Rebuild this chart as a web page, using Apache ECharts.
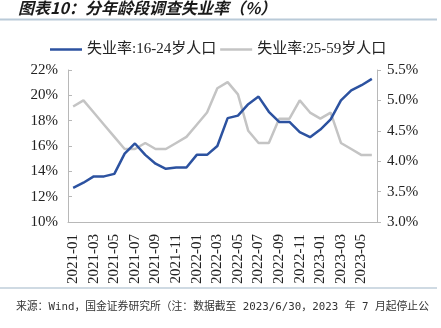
<!DOCTYPE html>
<html>
<head>
<meta charset="utf-8">
<style>
  html, body { margin: 0; padding: 0; background: #fff; }
  #chart { width: 441px; height: 328px; }
</style>
<script src="https://cdn.jsdelivr.net/npm/echarts@6/dist/echarts.min.js"></script>
</head>
<body>
<div id="chart"></div>
<script>
// Monthly survey unemployment rate by age group, 2021-01 .. 2023-06
const months = [
  '2021-01','2021-02','2021-03','2021-04','2021-05','2021-06',
  '2021-07','2021-08','2021-09','2021-10','2021-11','2021-12',
  '2022-01','2022-02','2022-03','2022-04','2022-05','2022-06',
  '2022-07','2022-08','2022-09','2022-10','2022-11','2022-12',
  '2023-01','2023-02','2023-03','2023-04','2023-05','2023-06'
];
// 16-24 age group (left axis, %)
const youthRate = [
  12.7, 13.1, 13.6, 13.6, 13.8, 15.4,
  16.2, 15.3, 14.6, 14.2, 14.3, 14.3,
  15.3, 15.3, 16.0, 18.2, 18.4, 19.3,
  19.9, 18.7, 17.9, 17.9, 17.1, 16.7,
  17.3, 18.1, 19.6, 20.4, 20.8, 21.3
];
// 25-59 age group (right axis, %)
const primeRate = [
  4.9, 5.0, 4.8, 4.6, 4.4, 4.2,
  4.2, 4.3, 4.2, 4.2, 4.3, 4.4,
  4.6, 4.8, 5.2, 5.3, 5.1, 4.5,
  4.3, 4.3, 4.7, 4.7, 5.0, 4.8,
  4.7, 4.8, 4.3, 4.2, 4.1, 4.1
];
const seriesNames = ['失业率:16-24岁人口', '失业率:25-59岁人口'];
const titleText = '图表10：分年龄段调查失业率（%）';
const sourceText = '来源：Wind，国金证券研究所（注：数据截至 2023/6/30，2023 年 7 月起停止公';

const serif = '"Liberation Serif", "Noto Sans CJK SC", serif';
const axisGray = '#b8b8b8';
const blue = '#2c52a0';
const gray = '#c4c4c4';

const chart = echarts.init(document.getElementById('chart'), null, { renderer: 'canvas' });
chart.setOption({
  animation: false,
  backgroundColor: '#fff',
  graphic: [
    {
      type: 'text', left: 18, top: 0,
      style: {
        text: titleText, fill: '#1a1a1a',
        font: 'italic bold 16px "Noto Sans CJK SC", sans-serif'
      }
    },
    {
      type: 'line', shape: { x1: 0, y1: 19.5, x2: 437, y2: 19.5 },
      style: { stroke: '#b9cad8', lineWidth: 2 }
    },
    {
      type: 'line', shape: { x1: 0, y1: 288, x2: 437, y2: 288 },
      style: { stroke: '#9fb5c8', lineWidth: 1.2 }
    },
    {
      type: 'text', left: 16, top: 302,
      style: {
        text: sourceText, fill: '#333',
        font: '10.8px "DejaVu Sans Mono", "Noto Sans CJK SC", monospace'
      }
    }
  ],
  legend: {
    top: 37,
    left: 45,
    itemGap: 4,
    itemWidth: 32,
    itemHeight: 2.5,
    icon: 'rect',
    textStyle: { fontFamily: serif, fontSize: 15, color: '#222' },
    data: seriesNames
  },
  grid: { left: 68, right: 64, top: 70, bottom: 106 },
  xAxis: {
    type: 'category',
    data: months,
    boundaryGap: true,
    axisLine: { lineStyle: { color: axisGray } },
    axisTick: { inside: true, length: 5, interval: 1, lineStyle: { color: axisGray } },
    axisLabel: {
      interval: 1, rotate: 90, margin: 12,
      fontFamily: serif, fontSize: 15, color: '#222'
    }
  },
  yAxis: [
    {
      type: 'value', min: 10, max: 22, interval: 2,
      splitLine: { show: false },
      axisLine: { show: true, lineStyle: { color: axisGray } },
      axisTick: { show: true, inside: true, length: 4, lineStyle: { color: axisGray } },
      axisLabel: {
        formatter: '{value}%', margin: 10,
        fontFamily: serif, fontSize: 15, color: '#222'
      }
    },
    {
      type: 'value', min: 3, max: 5.5, interval: 0.5, position: 'right',
      splitLine: { show: false },
      axisLine: { show: true, lineStyle: { color: axisGray } },
      axisTick: { show: true, inside: false, length: 4, lineStyle: { color: axisGray } },
      axisLabel: {
        formatter: v => v.toFixed(1) + '%', margin: 10,
        fontFamily: serif, fontSize: 15, color: '#222'
      }
    }
  ],
  series: [
    {
      name: seriesNames[0], type: 'line', yAxisIndex: 0,
      data: youthRate, symbol: 'none',
      lineStyle: { color: blue, width: 2.5 }, itemStyle: { color: blue }, z: 3
    },
    {
      name: seriesNames[1], type: 'line', yAxisIndex: 1,
      data: primeRate, symbol: 'none',
      lineStyle: { color: gray, width: 2.5 }, itemStyle: { color: gray }, z: 2
    }
  ]
});
</script>
</body>
</html>
